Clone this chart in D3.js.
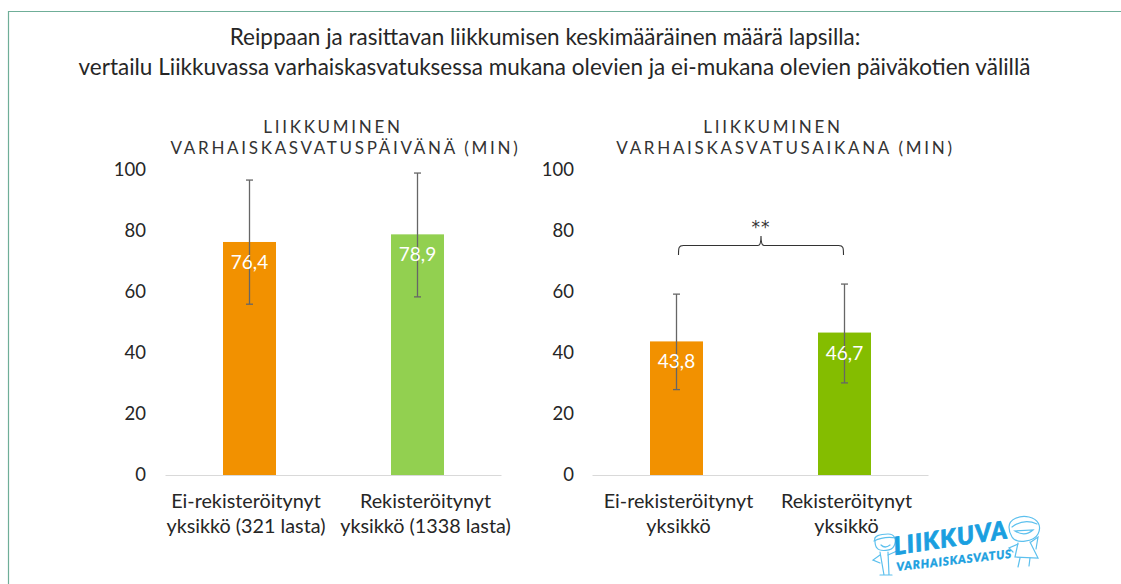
<!DOCTYPE html>
<html>
<head>
<meta charset="utf-8">
<script src="https://cdn.jsdelivr.net/npm/d3@7"></script>
<style>
  html, body { margin: 0; padding: 0; background: #fff; }
  text { font-family: Lato, "Open Sans", sans-serif; }
</style>
</head>
<body>
<div id="chart"></div>
<script>
const titleLines = [
  "Reippaan ja rasittavan liikkumisen keskimääräinen määrä lapsilla:",
  "vertailu Liikkuvassa varhaiskasvatuksessa mukana olevien ja ei-mukana olevien päiväkotien välillä"
];
const yTicks = [0, 20, 40, 60, 80, 100];

const leftHeading = ["LIIKKUMINEN", "VARHAISKASVATUSPÄIVÄNÄ (MIN)"];
const leftLabels = [["Ei-rekisteröitynyt", "yksikkö (321 lasta)"], ["Rekisteröitynyt", "yksikkö (1338 lasta)"]];
const leftValues = [76.4, 78.9];
const leftLow = [56, 58.4];
const leftHigh = [96.7, 99];
const leftColors = ["#f29100", "#92d050"];

const rightHeading = ["LIIKKUMINEN", "VARHAISKASVATUSAIKANA (MIN)"];
const rightLabels = [["Ei-rekisteröitynyt", "yksikkö"], ["Rekisteröitynyt", "yksikkö"]];
const rightValues = [43.8, 46.7];
const rightLow = [28, 30.2];
const rightHigh = [59.3, 62.6];
const rightColors = ["#f29100", "#84bd00"];

const W = 1121, H = 584;
const svg = d3.select("#chart").append("svg").attr("width", W).attr("height", H).style("display", "block");

// Frame, only top and left edges show
svg.append("path")
  .attr("d", `M${W},11.5H8.5V${H}`)
  .attr("fill", "none").attr("stroke", "#6fae98").attr("stroke-width", 1.2);

titleLines.forEach((t, i) => {
  svg.append("text")
    .attr("x", i === 0 ? 545 : 554.5).attr("y", 45 + i * 30)
    .attr("text-anchor", "middle")
    .attr("fill", "#262626").attr("font-size", "22.5px")
    .text(t);
});

const y = d3.scaleLinear().domain([0, 100]).range([475, 170]);

function panel(opts) {
  const x = d3.scaleBand().domain([0, 1]).range(opts.range);
  const g = svg.append("g");
  const barW = 53;

  opts.heading.forEach((t, i) => {
    g.append("text")
      .attr("x", opts.headingX[i]).attr("y", 133 + i * 21)
      .attr("text-anchor", "middle")
      .attr("fill", "#333").attr("font-size", "17px").attr("letter-spacing", "2.7px")
      .text(t);
  });

  const axis = d3.axisLeft(y).tickValues(yTicks).tickSize(0).tickPadding(0);
  const ag = g.append("g").attr("transform", `translate(${opts.tickX},-0.5)`).call(axis);
  ag.select(".domain").remove();
  ag.selectAll("text").attr("fill", "#262626").attr("font-size", "18.5px")
    .style("font-family", "Lato, sans-serif");

  opts.values.forEach((v, i) => {
    const cx = x(i) + x.bandwidth() / 2;
    g.append("rect")
      .attr("x", cx - barW / 2).attr("y", y(v))
      .attr("width", barW).attr("height", y(0) - y(v))
      .attr("fill", opts.colors[i]);

    // Error bar
    const err = g.append("g").attr("stroke", "#666").attr("stroke-width", 1.3);
    err.append("line").attr("x1", cx).attr("x2", cx).attr("y1", y(opts.high[i])).attr("y2", y(opts.low[i]));
    [opts.high[i], opts.low[i]].forEach(e => {
      err.append("line").attr("x1", cx - 3.5).attr("x2", cx + 3.5).attr("y1", y(e)).attr("y2", y(e));
    });

    g.append("text")
      .attr("x", cx).attr("y", y(v) + opts.valueDy)
      .attr("text-anchor", "middle")
      .attr("fill", "#fff").attr("font-size", "19px")
      .text(String(v).replace(".", ","));

    opts.labels[i].forEach((t, j) => {
      g.append("text")
        .attr("x", cx + opts.labelDx[i]).attr("y", 507.5 + j * 25)
        .attr("text-anchor", "middle")
        .attr("fill", "#262626").attr("font-size", "19.8px")
        .text(t);
    });
  });

  g.append("line")
    .attr("x1", opts.range[0]).attr("x2", opts.range[1])
    .attr("y1", y(0) + 0.5).attr("y2", y(0) + 0.5)
    .attr("stroke", "#d9d9d9").attr("stroke-width", 1);
  return x;
}

panel({
  range: [165.5, 501.5], heading: leftHeading, headingX: [333, 345.5], tickX: 146,
  values: leftValues, low: leftLow, high: leftHigh, colors: leftColors, labels: leftLabels,
  valueDy: 27, labelDx: [-3.5, 8]
});
const xRight = panel({
  range: [592.5, 928.5], heading: rightHeading, headingX: [773, 785.5], tickX: 574,
  values: rightValues, low: rightLow, high: rightHigh, colors: rightColors, labels: rightLabels,
  valueDy: 27, labelDx: [2, 2]
});

// Significance brace
const bx0 = xRight(0) + xRight.bandwidth() / 2 + 2;
const bx1 = xRight(1) + xRight.bandwidth() / 2 - 1;
const bxm = (bx0 + bx1) / 2;
svg.append("path")
  .attr("d", `M${bx0},255 C${bx0},248 ${bx0},245.5 ${bx0 + 5},245.5 H${bxm - 3} Q${bxm},245.5 ${bxm},236 Q${bxm},245.5 ${bxm + 3},245.5 H${bx1 - 5} C${bx1},245.5 ${bx1},248 ${bx1},255`)
  .attr("fill", "none").attr("stroke", "#333").attr("stroke-width", 1.1);
svg.append("text")
  .attr("x", bxm).attr("y", 233)
  .attr("text-anchor", "middle")
  .attr("fill", "#333").attr("font-size", "17px").attr("letter-spacing", "1px")
  .style("font-family", "'DejaVu Sans', sans-serif")
  .text("**");

// Logo
const logo = svg.append("g");
const sketch = logo.append("g").attr("fill", "none").attr("stroke", "#5cc0ee").attr("stroke-width", 1.2)
  .attr("stroke-linecap", "round");
// small figure on the left
sketch.append("path").attr("d", "M875,541 C873,536 880,534 888,534 C895,534 897,540 894,546 C892,551 880,552 877,548 C875,546 875,544 875,541");
sketch.append("path").attr("d", "M874,541 Q884,536 896,538");
sketch.append("path").attr("d", "M881,545 Q885,549 890,545");
sketch.append("path").attr("d", "M880,552 L884,575 M888,552 L889,575 M880,575 L892,575");
sketch.append("path").attr("d", "M880,555 L873,560 L880,563 M888,555 L897,551");
// larger figure on the right
sketch.append("path").attr("d", "M1009,527 C1009,519 1020,515 1029,517 C1038,519 1042,526 1038,534 C1034,542 1016,544 1012,537 C1010,534 1009,531 1009,527");
sketch.append("path").attr("d", "M1012,527 Q1024,518 1037,524");
sketch.append("path").attr("d", "M1015,531 Q1025,537 1033,530 Z");
sketch.append("path").attr("d", "M1018,543 L1015,557 L1038,558 L1030,542");
sketch.append("path").attr("d", "M1018,544 L1009,548 L1013,552 M1031,542 L1038,537 L1036,549");
sketch.append("path").attr("d", "M1020,558 L1018,567 M1030,558 L1029,566");

logo.append("text")
  .attr("transform", "translate(895,555) rotate(-8.5)")
  .attr("fill", "#1a9fe0").attr("stroke", "#1a9fe0").attr("stroke-width", 0.8)
  .attr("font-size", "24.5px").attr("font-weight", 900)
  .attr("font-style", "italic").attr("letter-spacing", "1.2px")
  .style("font-family", "Lato, sans-serif")
  .text("LIIKKUVA");
logo.append("text")
  .attr("transform", "translate(897,571) rotate(-6.6)")
  .attr("fill", "#1a9fe0").attr("stroke", "#1a9fe0").attr("stroke-width", 0.4)
  .attr("font-size", "11.5px").attr("font-weight", 900)
  .attr("font-style", "italic").attr("letter-spacing", "1px")
  .style("font-family", "Lato, sans-serif")
  .text("VARHAISKASVATUS");
</script>
</body>
</html>
